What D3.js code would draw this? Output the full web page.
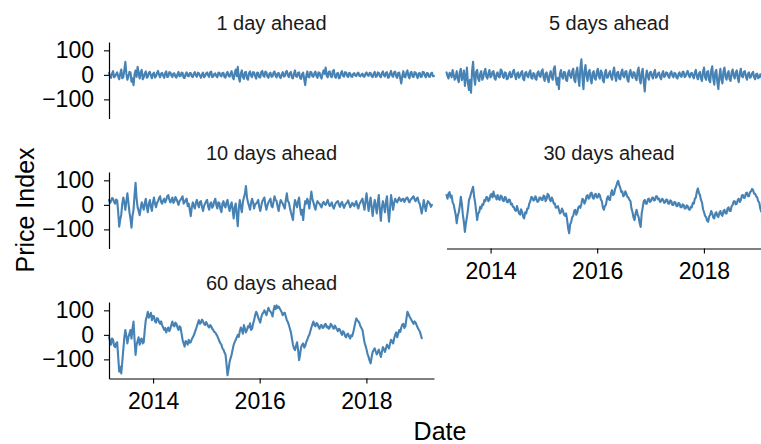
<!DOCTYPE html>
<html>
<head>
<meta charset="utf-8">
<script src="https://cdn.jsdelivr.net/npm/d3@7"></script>
<style>
  body { margin: 0; background: #fff; }
  svg { display: block; }
  text { font-family: "Liberation Sans", Arial, Helvetica, sans-serif; }
</style>
</head>
<body>
<svg id="chart" width="761" height="444"></svg>
<script>
// Forecast horizons, one facet each
const horizons = ["1 day ahead", "5 days ahead", "10 days ahead", "30 days ahead", "60 days ahead"];

// Observations are weekly, starting on this date
const startDate = "2013-03-05";
const stepDays = 7;

// Price index deviations per horizon
const ahead1 = [
  8,-4,-12,6,15,-10,-6,3,10,-7,-18,5,22,-14,-9,20,53,4,-20,-6,12,10,-28,-14,-42,2,18,-8,33,5,-15,12,20,-18,-10,6,14,-12,-8,9,
  12,-3,-14,4,9,-11,-6,8,16,0,-10,5,8,-4,-12,7,14,-9,-7,11,10,-2,-9,5,6,-8,-11,3,12,-6,-5,9,8,-12,-13,4,10,-5,-6,7,
  7,-6,-9,5,11,-3,-8,9,6,-4,-12,2,9,-10,-5,6,10,-2,-8,11,13,-9,-7,4,6,-5,-10,8,9,-3,-6,7,8,-9,-11,5,12,-4,-7,6,
  15,-10,-18,8,22,-5,33,-12,-28,6,18,-9,-16,10,12,-14,-20,7,14,-3,-9,11,10,-6,-15,9,8,-10,-11,12,16,-4,-8,13,10,-7,-12,5,9,-8,
  -7,10,14,-4,-10,6,8,-9,-13,3,11,-7,-6,12,16,-2,-9,8,12,-11,-14,5,18,-6,-8,9,10,-13,-16,4,9,-18,-42,-5,14,-8,-10,12,11,-6,
  -8,7,13,-5,-12,10,9,-8,-15,6,18,4,30,-3,-10,12,14,-6,-9,15,20,-8,-12,5,8,-14,-11,9,15,-4,-7,11,10,-5,-9,8,6,-7,-8,4,
  7,-3,-5,6,9,-4,-6,2,5,-7,-8,6,10,-2,-4,8,7,-6,-9,5,12,-8,-6,10,8,-5,-10,7,14,-3,-7,9,11,-12,-9,6,16,-4,-8,10,
  13,-6,-12,8,9,-14,-35,-4,15,-8,-10,10,18,-5,-14,9,12,-7,-9,11,10,-4,-13,6,8,-9,-7,12,11,-3,-10,7,6,-8,-8,5,9,-6,-5
];
const ahead5 = [
  10,-5,-15,8,5,-10,20,2,-20,-8,15,-18,-30,10,25,-22,-10,18,-45,-12,30,-35,-62,-20,-73,15,53,-10,-40,12,20,-15,-25,5,15,-20,-10,12,25,-8,
  -15,6,20,-10,-5,12,15,-14,-20,4,10,-8,-10,22,18,-6,-12,10,8,-18,-15,3,12,-10,-8,14,20,-2,-18,5,10,-12,-5,9,15,-16,-22,8,12,-5,
  -10,10,18,-12,-15,7,5,-16,-20,9,14,-5,-8,15,22,-10,-25,6,10,-18,-30,2,15,-10,-20,25,35,-15,-40,-12,-58,5,20,-8,-15,12,10,-20,-25,8,
  18,-5,-12,14,25,-20,-30,12,30,-15,-45,28,63,-10,-58,15,40,-5,-25,12,20,-18,-35,8,15,-14,-20,10,25,-6,-15,18,10,-22,-30,9,20,-12,-10,7,
  15,-8,-20,12,30,-6,-25,9,12,-15,-18,10,22,-5,-10,14,15,-20,-28,6,20,-4,-12,11,8,-14,-22,16,30,-18,-35,10,25,-30,-68,-10,18,-6,-20,9,
  12,-4,-15,9,20,-12,-8,6,10,-10,-18,5,15,-9,-5,10,8,-6,-12,7,14,-3,-10,8,6,-11,-15,4,10,-6,-8,12,12,-9,-5,8,16,-2,-10,6,
  8,-6,-14,10,20,-8,-18,5,12,-15,-25,14,30,-10,-20,12,15,-22,-30,18,35,-15,-40,10,20,-30,-58,-5,25,-20,-35,15,30,-8,-20,6,15,-18,-25,10,
  22,-5,-15,10,18,-14,-30,8,25,-6,-10,12,15,-8,-20,4,10,-12,-8,6,12,-10,-18,3,5,-14,-10,2,-5,-18,-15,0,-20,-4,-8,-16,-12,2,-5
];
const ahead10 = [
  20,8,15,28,25,12,5,22,18,-30,-89,-60,-40,5,30,10,-20,15,47,10,-30,-55,-93,-45,-20,40,90,25,-10,-25,-42,-15,10,-5,-20,8,25,-10,-30,5,
  20,-8,-25,10,30,5,-10,8,15,28,35,12,5,18,25,10,20,35,40,22,10,18,30,8,15,32,25,12,0,15,20,28,35,5,10,20,25,-5,5,-20,
  -46,-10,10,-5,-15,8,20,2,-10,12,15,-8,-25,-5,5,14,20,-6,-20,4,10,-12,-5,15,25,0,-15,10,8,-18,-30,5,15,-4,-10,10,20,-8,-25,-2,
  10,-20,-55,-10,5,-40,-87,-15,20,-10,-30,12,30,45,77,30,10,-5,-20,8,25,10,-15,2,5,12,20,-8,-25,-4,15,22,30,0,-20,-2,10,18,25,-5,
  -10,12,35,20,15,-8,-25,2,20,12,5,-6,-15,20,47,15,10,-12,-30,-45,-62,-10,20,5,-10,15,30,-12,-40,-20,-62,-15,15,5,25,10,-15,20,54,25,
  10,-6,-20,2,15,8,5,-4,-10,6,12,3,0,10,20,5,-5,2,10,-8,-15,-2,8,12,15,2,-8,5,12,-2,-12,0,5,10,18,4,-10,-3,8,2,
  -5,6,15,-4,-15,2,10,18,25,0,-20,15,47,10,-25,5,30,-10,-45,-8,20,-5,-35,10,40,-20,-65,-12,15,-5,-30,12,35,-25,-69,-15,40,12,-20,8,
  25,15,10,22,30,18,15,24,25,12,20,28,30,18,10,20,25,30,35,22,15,25,30,12,5,-15,-35,-10,20,-5,-25,0,15,10,5,-8,0
];
const ahead30 = [
  40,25,47,52,30,38,10,2,-20,-40,-75,-45,-30,-5,33,5,-40,-70,-110,-75,-50,-20,20,30,47,60,74,35,10,-25,-62,-35,-30,-8,-15,2,0,20,15,32,
  30,15,20,40,45,30,54,35,35,22,40,25,20,38,35,18,15,32,30,12,10,22,20,2,5,-8,-10,-22,-25,-5,-20,-35,-40,-18,-30,-48,-55,-30,-35,-15,
  -15,5,15,32,30,18,20,35,25,12,15,30,30,20,20,38,35,15,25,45,40,22,15,30,20,5,5,-12,-10,-5,-20,-35,-30,-15,-25,-40,-45,-35,-60,-95,
  -116,-80,-70,-50,-45,-25,-20,-40,-30,-10,-5,-12,5,25,20,5,15,35,40,25,30,48,50,30,25,42,45,30,30,45,40,22,15,-10,-20,-5,0,25,35,22,
  20,48,60,40,45,65,75,90,98,80,70,52,55,35,40,55,45,32,30,20,15,-15,-30,-52,-62,-35,-20,-40,-50,-75,-90,-35,-10,15,20,5,5,22,25,12,
  15,28,30,18,20,35,35,22,25,12,15,25,20,8,10,22,20,5,5,18,15,0,0,12,10,-5,-5,8,5,-10,-10,2,0,-15,-15,-2,-5,-18,-20,-8,
  -10,8,5,25,30,55,67,48,40,20,10,-18,-30,-45,-50,-65,-69,-48,-40,-25,-35,-52,-55,-35,-30,-45,-50,-32,-25,-40,-45,-25,-20,-35,-35,-15,-10,-25,-25,-5,
  0,15,15,2,5,20,25,12,20,38,40,28,30,48,50,35,35,52,55,65,60,45,45,35,30,15,10,-15,-28,-15,-20,-32,-35
];
const ahead60 = [
  -10,-25,-40,-15,-20,-45,-50,-35,-30,-90,-150,-130,-157,-110,-60,-10,20,-5,-35,-10,5,20,-15,25,54,-20,-82,-40,-25,-10,-40,-20,-15,-35,-30,20,60,75,94,70,
  80,90,60,78,75,55,50,68,65,52,45,55,40,30,20,28,10,22,30,15,25,40,54,38,35,50,45,30,20,35,30,5,-20,-35,-48,-25,-30,-40,-20,-32,
  -30,-18,-10,-2,10,22,35,48,60,45,50,62,55,45,40,52,45,35,30,40,35,25,20,12,10,2,-5,-15,-25,-35,-40,-55,-60,-72,-80,-120,-165,-140,-110,-95,
  -80,-60,-40,-30,-20,-10,0,-8,15,30,20,5,40,25,10,20,35,30,47,20,25,45,60,80,94,85,70,60,50,72,85,90,100,92,80,95,110,100,95,88,
  75,100,118,105,120,110,115,108,100,92,80,88,90,75,60,52,40,25,10,-15,-40,-55,-62,-45,-30,-60,-103,-80,-50,-40,-35,-52,-45,-30,-20,-8,0,15,30,42,
  54,40,35,48,45,32,25,38,40,28,30,42,45,30,35,25,30,45,40,30,25,38,30,22,15,25,20,8,0,15,10,-5,-10,2,5,-8,-15,-2,-5,10,
  30,50,67,60,55,48,35,28,20,-5,-30,-45,-60,-78,-90,-105,-116,-90,-70,-62,-55,-68,-80,-70,-60,-75,-90,-70,-50,-58,-70,-55,-40,-48,-55,-35,-20,-28,-35,-15,
  0,10,-10,5,20,12,30,42,45,28,35,65,94,85,75,68,60,52,45,55,50,40,30,22,15,2,-14
];

const yTicks = [-100, 0, 100];
const xTickYears = [2014, 2016, 2018];

const seriesList = [ahead1, ahead5, ahead10, ahead30, ahead60];

const parseDate = d3.timeParse("%Y-%m-%d");
const t0 = parseDate(startDate);
const dateAt = i => d3.timeDay.offset(t0, i * stepDays);

// Facet geometry
const panelW = 325, panelH = 76.5;
const colX = [109, 446.5];
const rowY = [42, 172, 302];
const lineColor = "#4682B4";

const x = d3.scaleTime()
  .domain([t0, dateAt(ahead1.length - 1)])
  .range([0, panelW]);
const y = d3.scaleLinear()
  .domain([-178, 134])
  .range([panelH, 0]);

const line = d3.line()
  .x((d, i) => x(dateAt(i)))
  .y(d => y(d));

const svg = d3.select("#chart");

function styleAxis(g, fontSize) {
  g.attr("font-family", null).attr("font-size", null);
  g.select(".domain").attr("stroke", "#000").attr("stroke-width", 1.2);
  g.selectAll(".tick line").attr("stroke", "#000").attr("stroke-width", 1.1);
  g.selectAll(".tick text").attr("fill", "#000").style("font-size", fontSize + "px");
}

horizons.forEach((name, k) => {
  const row = Math.floor(k / 2), col = k % 2;
  const g = svg.append("g")
    .attr("transform", `translate(${colX[col]},${rowY[row]})`);

  // strip title
  g.append("text")
    .attr("x", panelW / 2)
    .attr("y", -12.5)
    .attr("text-anchor", "middle")
    .attr("fill", "#1a1a1a")
    .style("font-size", "20px")
    .text(name);

  g.append("path")
    .datum(seriesList[k])
    .attr("d", line)
    .attr("fill", "none")
    .attr("stroke", lineColor)
    .attr("stroke-width", 2.1)
    .attr("stroke-linejoin", "round")
    .attr("stroke-linecap", "round");

  if (col === 0) {
    const ay = g.append("g")
      .call(d3.axisLeft(y).tickValues(yTicks).tickSize(5).tickSizeOuter(0).tickPadding(10));
    styleAxis(ay, 23);
  }
  // bottom axis on facets with nothing below them
  if (k >= horizons.length - 2) {
    const ax = g.append("g")
      .attr("transform", `translate(0,${panelH})`)
      .call(d3.axisBottom(x)
        .tickValues(xTickYears.map(yr => new Date(yr, 0, 1)))
        .tickFormat(d3.timeFormat("%Y"))
        .tickSize(5).tickSizeOuter(0).tickPadding(9));
    styleAxis(ax, 23);
  }
});

// axis titles
svg.append("text")
  .attr("x", 440)
  .attr("y", 439.5)
  .attr("text-anchor", "middle")
  .attr("fill", "#000")
  .style("font-size", "25px")
  .text("Date");

svg.append("text")
  .attr("transform", "translate(33.5,210) rotate(-90)")
  .attr("text-anchor", "middle")
  .attr("fill", "#000")
  .style("font-size", "25px")
  .text("Price Index");
</script>
</body>
</html>
